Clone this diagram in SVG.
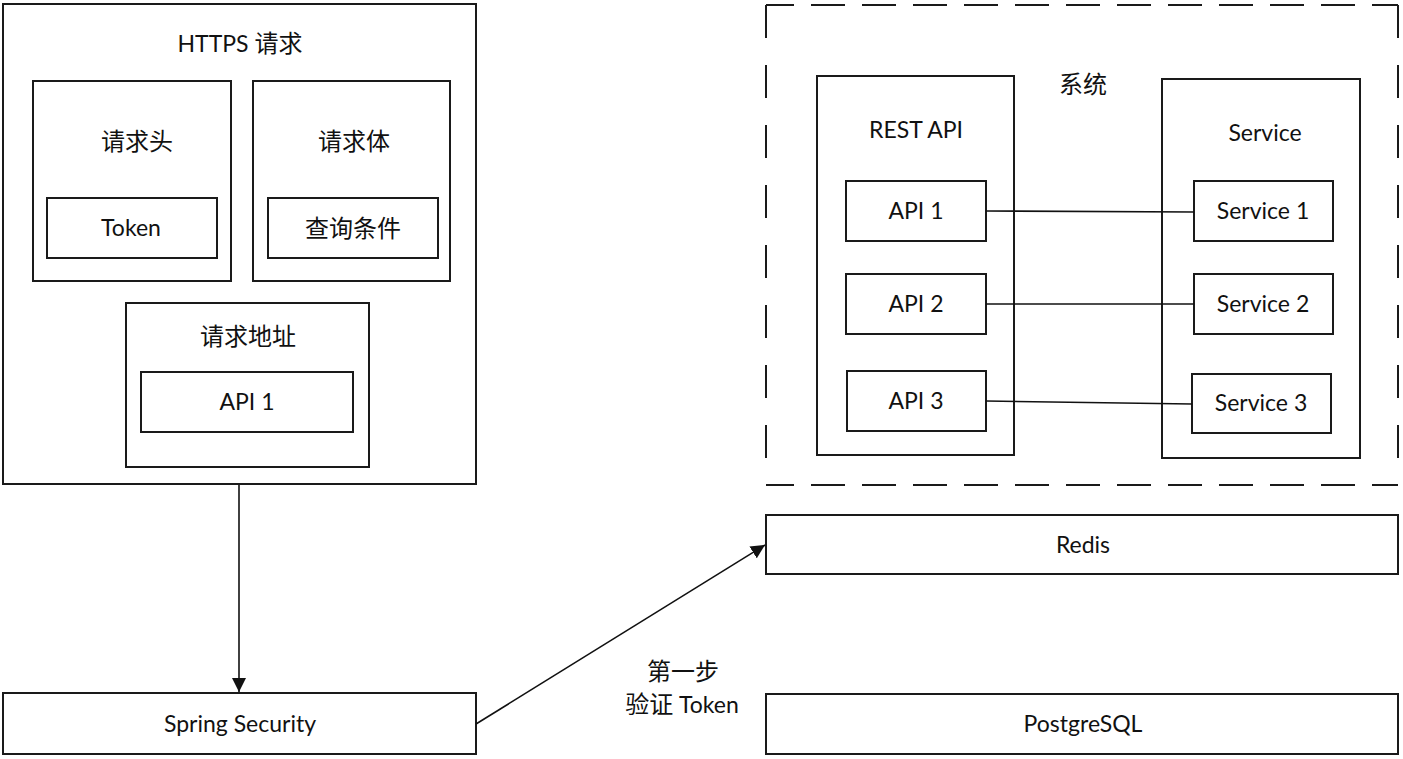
<svg xmlns="http://www.w3.org/2000/svg" width="1403" height="759" viewBox="0 0 1403 759">
<style>
.box{fill:#fff;stroke:#1a1a1a;stroke-width:2}
.dh{fill:none;stroke:#1a1a1a;stroke-width:2;stroke-dasharray:28 17 34 17 34 17 34 17 34 17 34 17 34 17 34 17 34 17 34 17 34 17 34 17 34 17 34 17}
.dv{fill:none;stroke:#1a1a1a;stroke-width:2;stroke-dasharray:33 27}
.t{font-family:Lato,"Noto Sans CJK SC",sans-serif;font-size:23px;fill:#111;text-anchor:middle}
.c{font-family:"Noto Sans CJK SC",sans-serif;font-size:24px;fill:#111;text-anchor:middle}
.ln{stroke:#111;stroke-width:1.6;fill:none}
</style>
<defs>
<marker id="ah" viewBox="0 0 10 10" refX="10" refY="5" markerWidth="14" markerHeight="14" markerUnits="userSpaceOnUse" orient="auto">
<path d="M0,0 L10,5 L0,10 z" fill="#111"/>
</marker>
</defs>
<rect width="1403" height="759" fill="#fff"/>
<g id="https">
<rect class="box" x="3" y="4" width="473" height="480"/>
<text class="t" x="240" y="52">HTTPS <tspan font-family="Noto Sans CJK SC, sans-serif" font-size="24">请求</tspan></text>
</g>
<g id="header">
<rect class="box" x="33" y="81" width="198" height="200"/>
<text class="c" x="137" y="150">请求头</text>
</g>
<g id="token">
<rect class="box" x="47" y="198" width="170" height="60"/>
<text class="t" x="131" y="236">Token</text>
</g>
<g id="body">
<rect class="box" x="253" y="81" width="197" height="200"/>
<text class="c" x="354" y="150">请求体</text>
</g>
<g id="query">
<rect class="box" x="268" y="198" width="170" height="60"/>
<text class="c" x="353" y="237">查询条件</text>
</g>
<g id="address">
<rect class="box" x="126" y="303" width="243" height="164"/>
<text class="c" x="248" y="345">请求地址</text>
</g>
<g id="addr-api1">
<rect class="box" x="141" y="372" width="212" height="60"/>
<text class="t" x="247" y="410">API 1</text>
</g>
<g id="spring">
<rect class="box" x="3" y="693" width="473" height="61"/>
<text class="t" x="240" y="732">Spring Security</text>
</g>
<g id="system">
<path class="dh" d="M766,5 H1398"/>
<path class="dh" d="M766,485 H1398"/>
<path class="dv" d="M766,5 V485"/>
<path class="dv" d="M1398,5 V485"/>
<text class="c" x="1083" y="93">系统</text>
</g>
<g id="rest">
<rect class="box" x="817" y="76" width="197" height="379"/>
<text class="t" x="916" y="138">REST API</text>
</g>
<g id="service">
<rect class="box" x="1162" y="79" width="198" height="379"/>
<text class="t" x="1265" y="141">Service</text>
</g>
<g id="api1">
<rect class="box" x="846" y="181" width="140" height="60"/>
<text class="t" x="916" y="219">API 1</text>
</g>
<g id="api2">
<rect class="box" x="846" y="274" width="140" height="60"/>
<text class="t" x="916" y="312">API 2</text>
</g>
<g id="api3">
<rect class="box" x="847" y="371" width="139" height="60"/>
<text class="t" x="916" y="409">API 3</text>
</g>
<g id="svc1">
<rect class="box" x="1194" y="181" width="139" height="60"/>
<text class="t" x="1263" y="219">Service 1</text>
</g>
<g id="svc2">
<rect class="box" x="1194" y="274" width="139" height="60"/>
<text class="t" x="1263" y="312">Service 2</text>
</g>
<g id="svc3">
<rect class="box" x="1192" y="374" width="139" height="59"/>
<text class="t" x="1261" y="411">Service 3</text>
</g>
<g id="redis">
<rect class="box" x="766" y="515" width="632" height="59"/>
<text class="t" x="1083" y="553">Redis</text>
</g>
<g id="postgres">
<rect class="box" x="766" y="694" width="632" height="60"/>
<text class="t" x="1083" y="732">PostgreSQL</text>
</g>
<g id="connectors">
<line class="ln" x1="239" y1="485" x2="239" y2="692" marker-end="url(#ah)"/>
<line class="ln" x1="476" y1="724" x2="765" y2="545" marker-end="url(#ah)"/>
<line class="ln" x1="986" y1="211" x2="1194" y2="212"/>
<line class="ln" x1="986" y1="304" x2="1194" y2="304"/>
<line class="ln" x1="986" y1="401" x2="1192" y2="404"/>
<text class="c" x="683" y="680">第一步</text>
<text class="t" x="682" y="713"><tspan font-family="Noto Sans CJK SC, sans-serif" font-size="24">验证</tspan> Token</text>
</g>
</svg>
